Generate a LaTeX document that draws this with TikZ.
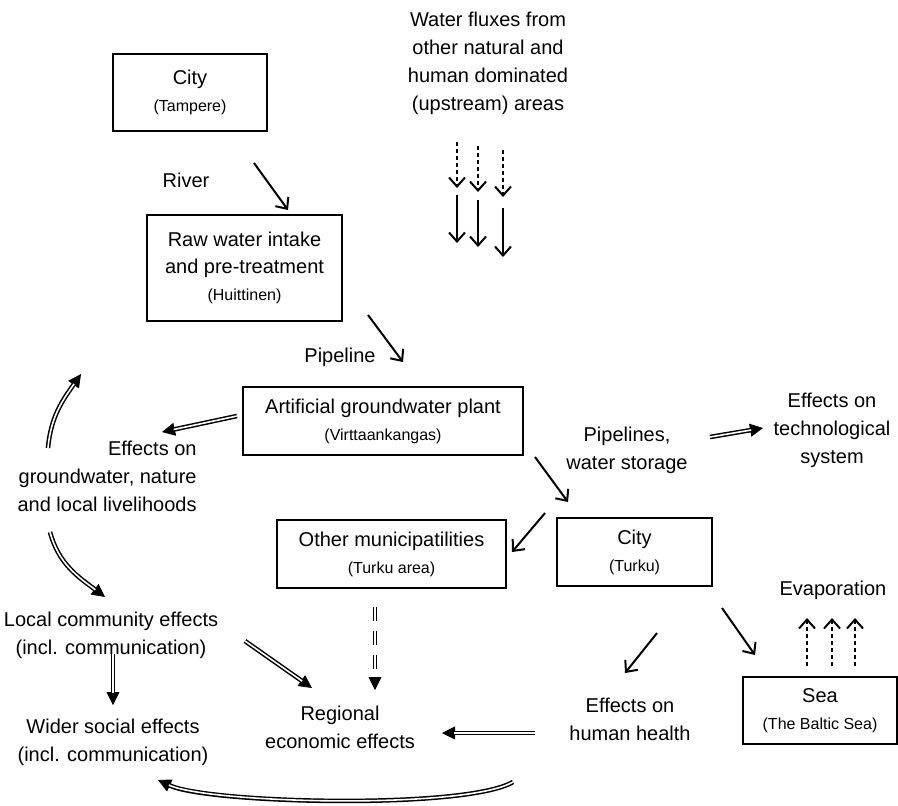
\documentclass[tikz,border=0pt]{standalone}
\usepackage{fontspec}
\setmainfont{Liberation Sans}
\usetikzlibrary{arrows.meta,positioning}
\tikzset{
wbox/.style = {draw=black, line width=0.9pt, align=center, inner sep=0pt, font=\fontsize{10}{13.5}\selectfont},% boite
wtxt/.style = {align=center, inner sep=0pt, font=\fontsize{10}{14}\selectfont},% texte libre
flow/.style = {line width=1pt, -{Straight Barb[length=4.5pt,width=8pt]}},% flux d'eau
dflow/.style = {flow, dash pattern=on 2.2pt off 1.3pt},% flux en pointilles
effect/.style = {line width=2.3pt, -{Triangle[length=6.5pt,width=6.5pt,line width=0.4pt]},
  postaction={draw=white, line width=0.8pt, shorten >=6pt, -}},% effets, trait double
deffect/.style = {effect, dash pattern=on 7pt off 5pt}% effets en pointilles
}
\newcommand{\wsub}[1]{{\fontsize{8}{10}\selectfont #1}}

\begin{document}
\begin{tikzpicture}[x=0.5pt,y=-0.5pt]
  \useasboundingbox (0,0) rectangle (898,805);
  % boites
  \node [wbox, minimum width=77pt, minimum height=38.5pt] (tampere) at (190,92.5) {City\\\wsub{(Tampere)}};
  \node [wbox, minimum width=97.5pt, minimum height=53pt] (huittinen) at (244.5,268)
    {Raw water intake\\and pre-treatment\\\wsub{(Huittinen)}};
  \node [wbox, minimum width=140pt, minimum height=34pt] (plant) at (383,421)
    {Artificial groundwater plant\\\wsub{(Virttaankangas)}};
  \node [wbox, minimum width=114.5pt, minimum height=34pt] (othermun) at (391.5,554)
    {Other municipatilities\\\wsub{(Turku area)}};
  \node [wbox, minimum width=77.5pt, minimum height=34pt] (turku) at (634.5,552) {City\\\wsub{(Turku)}};
  \node [wbox, minimum width=77pt, minimum height=33.5pt] (sea) at (820,710.5) {Sea\\\wsub{(The Baltic Sea)}};
  % textes
  \node [wtxt] (fluxes) at (488,63.5) {Water fluxes from\\other natural and\\human dominated\\(upstream) areas};
  \node [wtxt] (river) at (186,180) {River};
  \node [wtxt] (pipeline) at (340,357) {Pipeline};
  \node [wtxt, align=right, anchor=east] (gwfx) at (197,476.5) {Effects on\\groundwater, nature\\and local livelihoods};
  \node [wtxt] (pipes) at (627,450) {Pipelines,\\water storage};
  \node [wtxt] (techfx) at (832,430) {Effects on\\technological\\system};
  \node [wtxt] (localfx) at (111,635) {Local community effects\\(incl. communication)};
  \node [wtxt] (widerfx) at (113,742) {Wider social effects\\(incl. communication)};
  \node [wtxt] (regional) at (340,727.5) {Regional\\economic effects};
  \node [wtxt] (healthfx) at (630,719) {Effects on\\human health};
  \node [wtxt] (evap) at (833,590) {Evaporation};
  % extremites des fleches
  \coordinate (riverA) at (254,163);   \coordinate (riverB) at (288,210);
  \coordinate (pipeA) at (368,315);    \coordinate (pipeB) at (403,362);
  \coordinate (turkuA) at (535,457);   \coordinate (turkuB) at (568,502);
  \coordinate (otherA) at (545,513);   \coordinate (otherB) at (512,552);
  \coordinate (healthA) at (657,633);  \coordinate (healthB) at (625,673);
  \coordinate (seaA) at (722,608);     \coordinate (seaB) at (755,655);
  \coordinate (gwA) at (237,416);      \coordinate (gwB) at (162,432);
  \coordinate (techA) at (710,437);    \coordinate (techB) at (763,428);
  \coordinate (upA) at (48,448);       \coordinate (upB) at (81,374);
  \coordinate (downA) at (50,532);     \coordinate (downB) at (105,597);
  \coordinate (localA) at (113,654);   \coordinate (localB) at (113,705);
  \coordinate (regA) at (245,641);     \coordinate (regB) at (312,688);
  \coordinate (hregA) at (535,733);    \coordinate (hregB) at (442,733);
  \coordinate (backA) at (513,782);    \coordinate (backB) at (158,780);
  \coordinate (omA) at (375,607);      \coordinate (omB) at (375,690);
  % flux d'eau
  \draw [flow] (riverA) -- (riverB);
  \draw [flow] (pipeA) -- (pipeB);
  \draw [flow] (turkuA) -- (turkuB);
  \draw [flow] (otherA) -- (otherB);
  \draw [flow] (healthA) -- (healthB);
  \draw [flow] (seaA) -- (seaB);
  \foreach \i/\x/\a/\b/\c/\d in {1/457/142/188/195/243, 2/478/146/192/200/247, 3/503/150/197/208/257} {
    \coordinate (fd\i) at (\x,\a); \coordinate (fe\i) at (\x,\b);
    \coordinate (fs\i) at (\x,\c); \coordinate (ft\i) at (\x,\d);
    \draw [dflow] (fd\i) -- (fe\i);
    \draw [flow] (fs\i) -- (ft\i);
  }
  \foreach \i/\x in {1/807, 2/832, 3/855} {
    \coordinate (ea\i) at (\x,666); \coordinate (eb\i) at (\x,618);
    \draw [dflow] (ea\i) -- (eb\i);
  }
  % effets
  \draw [effect] (gwA) -- (gwB);
  \draw [effect] (techA) -- (techB);
  \draw [effect] (upA) to[out=85, in=235] (upB);
  \draw [effect] (downA) to[out=-75, in=143] (downB);
  \draw [effect] (localA) -- (localB);
  \draw [effect] (regA) -- (regB);
  \draw [effect] (hregA) -- (hregB);
  \draw [effect] (backA) to[out=210, in=335, looseness=0.4] (backB);
  \draw [deffect] (omA) -- (omB);
\end{tikzpicture}
\end{document}
